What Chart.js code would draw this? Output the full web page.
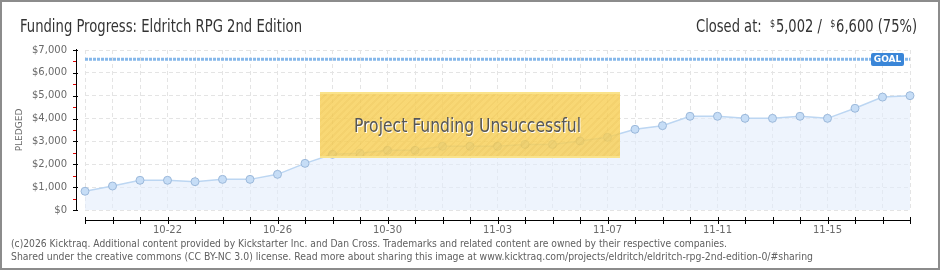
<!DOCTYPE html>
<html lang="en">
<head>
<meta charset="UTF-8">
<title>Funding Progress: Eldritch RPG 2nd Edition</title>
<script src="https://cdn.jsdelivr.net/npm/chart.js@4"></script>
<style>
  html, body { margin: 0; padding: 0; background: #fff; }
  #wrap { position: relative; width: 940px; height: 270px; overflow: hidden; }
  #frame { position: absolute; left: 0; top: 0; width: 940px; height: 270px;
           box-sizing: border-box; border: 2px solid #8c8c8c; pointer-events: none; }
  canvas { position: absolute; left: 0; top: 0; }
  .txt { position: absolute; white-space: nowrap; transform-origin: 0 0; }
  .title { font-family: 'Liberation Sans Narrow', 'DejaVu Sans Condensed', sans-serif;
           font-size: 18px; line-height: 18px; color: #333; }
  .title sup { font-size: 11px; vertical-align: 0; position: relative; top: -5px; margin-right: 1px; }
  .foot { font-family: 'DejaVu Sans', sans-serif; font-size: 10px; line-height: 12px; color: #606060; }
  #fail { position: absolute; left: 320px; top: 92px; width: 300px; height: 66px; box-sizing: border-box;
          background: repeating-linear-gradient(135deg, rgba(247,207,86,0.82) 0 3px, rgba(242,200,78,0.82) 3px 5px);
          border-top: 2px solid rgba(250,228,140,0.95); border-bottom: 2px solid rgba(250,228,140,0.95); }
  #failtxt { font-family: 'Liberation Sans Narrow', 'DejaVu Sans Condensed', sans-serif; font-size: 19px;
             line-height: 19px; color: #565656; text-shadow: 1px 1px 0 #fff; }
</style>
</head>
<body>
<div id="wrap">
  <canvas id="chart" width="940" height="270"></canvas>
  <div id="fail"></div>
  <div class="txt title" id="t1" data-w="282" style="left:20px; top:17px;">Funding Progress: Eldritch RPG 2nd Edition</div>
  <div class="txt title" id="t2" data-w="221" data-right="917" style="top:17px;">Closed at:&nbsp; <sup>$</sup>5,002 /&nbsp; <sup>$</sup>6,600 (75%)</div>
  <div class="txt" id="failtxt" data-w="227" style="left:354px; top:116px;">Project Funding Unsuccessful</div>
  <div class="txt foot" data-w="716" style="left:11px; top:238px;">(c)2026 Kicktraq. Additional content provided by Kickstarter Inc. and Dan Cross. Trademarks and related content are owned by their respective companies.</div>
  <div class="txt foot" data-w="802" style="left:11px; top:251px;">Shared under the creative commons (CC BY-NC 3.0) license. Read more about sharing this image at www.kicktraq.com/projects/eldritch/eldritch-rpg-2nd-edition-0/#sharing</div>
  <div id="frame"></div>
</div>
<script>
// ---------------------------------------------------------------------------
// Data
// ---------------------------------------------------------------------------
const dates = [
  '10-19','10-20','10-21','10-22','10-23','10-24','10-25','10-26','10-27','10-28',
  '10-29','10-30','10-31','11-01','11-02','11-03','11-04','11-05','11-06','11-07',
  '11-08','11-09','11-10','11-11','11-12','11-13','11-14','11-15','11-16','11-17','11-18'
];
const pledged = [
  820, 1050, 1300, 1300, 1240, 1340, 1340, 1560, 2040, 2435,
  2480, 2610, 2610, 2785, 2785, 2785, 2870, 2870, 3020, 3180,
  3530, 3690, 4100, 4100, 4010, 4010, 4100, 4010, 4450, 4940, 5002
];
const goal = 6600;
const shownDates = ['10-22', '10-26', '10-30', '11-03', '11-07', '11-11', '11-15'];
const yTicks = [0, 1000, 2000, 3000, 4000, 5000, 6000, 7000];

// squeeze text horizontally to the widths measured on the original
document.querySelectorAll('.txt[data-w]').forEach(el => {
  const w = el.getBoundingClientRect().width;
  const target = +el.dataset.w;
  el.style.transform = `scaleX(${target / w})`;
  if (el.dataset.right) el.style.left = (+el.dataset.right - target) + 'px';
});

// axis lines sit a little away from the plot, like the original
const axesPlugin = {
  id: 'kicktraqAxes',
  afterDraw(chart) {
    const { ctx, chartArea: a, scales: { x, y } } = chart;
    ctx.save();
    // y axis
    const ax = Math.round(a.left - 9);
    const yTop = Math.round(y.getPixelForValue(7000));
    const yBot = Math.round(y.getPixelForValue(0));
    ctx.fillStyle = '#000';
    ctx.fillRect(ax, yTop - 1, 1, yBot - yTop + 2);
    for (const v of yTicks) {
      ctx.fillRect(ax - 3, Math.round(y.getPixelForValue(v)), 5, 1);
    }
    ctx.fillStyle = '#e00000';
    for (let v = 500; v < 7000; v += 1000) {
      ctx.fillRect(ax - 3, Math.round(y.getPixelForValue(v)), 3, 1);
    }
    // x axis
    const ay = Math.round(a.bottom + 10);
    const x0 = Math.round(x.getPixelForValue(0));
    const x1 = Math.round(x.getPixelForValue(dates.length - 1));
    ctx.fillStyle = '#000';
    ctx.fillRect(x0, ay, x1 - x0 + 1, 1);
    dates.forEach((_, i) => {
      ctx.fillRect(Math.round(x.getPixelForValue(i)), ay - 3, 1, 7);
    });
    // GOAL badge at the goal line
    const gy = y.getPixelForValue(goal);
    const bx = 871, bw = 33, bh = 13, by = Math.round(gy - 6.5);
    ctx.fillStyle = '#3a86d8';
    ctx.beginPath();
    ctx.roundRect(bx, by, bw, bh, 2);
    ctx.fill();
    ctx.fillStyle = '#fff';
    ctx.font = 'bold 9px "DejaVu Sans", sans-serif';
    ctx.textAlign = 'center';
    ctx.textBaseline = 'middle';
    ctx.fillText('GOAL', bx + bw / 2, by + bh / 2 + 0.5);
    ctx.restore();
  }
};

new Chart(document.getElementById('chart'), {
  type: 'line',
  data: {
    labels: dates,
    datasets: [
      {
        label: 'Pledged',
        data: pledged,
        borderColor: '#bcd6f2',
        borderWidth: 1.5,
        backgroundColor: 'rgba(226,237,251,0.6)',
        fill: 'origin',
        tension: 0,
        pointRadius: 4,
        pointBackgroundColor: '#c6ddf6',
        pointBorderColor: '#9bb8da',
        pointBorderWidth: 1,
      },
      {
        label: 'Goal',
        data: dates.map(() => goal),
        borderColor: '#86b8ea',
        borderWidth: 3,
        borderDash: [3, 1],
        pointRadius: 0,
        fill: false,
      }
    ]
  },
  options: {
    responsive: false,
    animation: false,
    layout: { padding: { top: 50, right: 30, left: 0, bottom: 0 } },
    plugins: { legend: { display: false }, tooltip: { enabled: false } },
    scales: {
      x: {
        offset: false,
        afterFit: s => { s.height = 60; },
        grid: { color: '#e4e4e4', drawTicks: false },
        border: { display: false, dash: [4, 3] },
        ticks: {
          autoSkip: false, maxRotation: 0, padding: 14,
          color: '#6a6a6a', font: { family: 'DejaVu Sans', size: 10 },
          callback: (v, i) => shownDates.includes(dates[i]) ? dates[i] : ''
        }
      },
      y: {
        min: 0, max: 7000,
        afterFit: s => { s.width = 85; },
        title: {
          display: true, text: 'PLEDGED', color: '#6a6a6a',
          font: { family: 'DejaVu Sans', size: 9 }, padding: { top: 14, bottom: 0 }
        },
        grid: { color: '#e4e4e4', drawTicks: false },
        border: { display: false, dash: [4, 3] },
        ticks: {
          stepSize: 1000, padding: 18,
          color: '#6a6a6a', font: { family: 'DejaVu Sans', size: 10 },
          callback: v => '$' + v.toLocaleString('en-US')
        }
      }
    }
  },
  plugins: [axesPlugin]
});
</script>
</body>
</html>
